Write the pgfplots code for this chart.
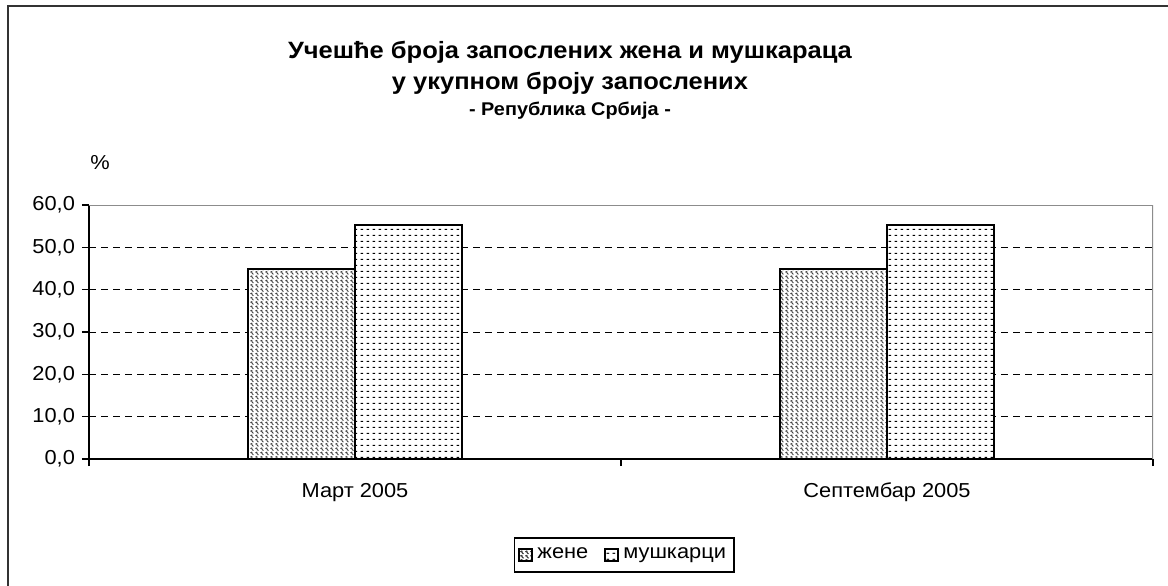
\documentclass[border=0pt]{standalone}
\usepackage{fontspec}
\setmainfont{Liberation Sans}[FakeStretch=1.08]
\usepackage{pgfplots}
\pgfplotsset{compat=1.18}
\usetikzlibrary{patterns}
\pgfdeclarepatternformonly{menpat}{\pgfqpoint{0pt}{0pt}}{\pgfqpoint{3pt}{3pt}}{\pgfqpoint{3pt}{3pt}}{%
  \pgfpathrectangle{\pgfqpoint{0.3pt}{1.3pt}}{\pgfqpoint{1.5pt}{0.45pt}}\pgfusepath{fill}}
\pgfdeclarepatternformonly{womenpat}{\pgfqpoint{-0.5pt}{-0.5pt}}{\pgfqpoint{3pt}{3pt}}{\pgfqpoint{2.5pt}{2.15pt}}{%
  \pgfsetlinewidth{0.45pt}%
  \pgfpathmoveto{\pgfqpoint{0.2pt}{1.6pt}}%
  \pgfpathlineto{\pgfqpoint{0.9pt}{1.9pt}}%
  \pgfpathlineto{\pgfqpoint{1.0pt}{1.2pt}}%
  \pgfpathlineto{\pgfqpoint{1.7pt}{0.5pt}}%
  \pgfusepath{stroke}}
\newcommand{\fs}{\fontsize{10.1}{12}\selectfont}
\begin{document}
\begin{tikzpicture}[x=1pt,y=1pt]
\useasboundingbox (0,0) rectangle (584,292.5);
\fill[white] (0,0) rectangle (584,292.5);
\draw[line width=1pt, black!80] (3.75,-2) -- (3.75,289.25) -- (590,289.25);
\node[font=\fontsize{11.8}{14}\selectfont\bfseries] at (285,266.5) {Учешће броја запослених жена и мушкараца};
\node[font=\fontsize{11.8}{14}\selectfont\bfseries] at (285,251) {у укупном броју запослених};
\node[font=\fontsize{9.2}{11}\selectfont\bfseries] at (285,237) {- Република Србија -};
\begin{axis}[
  at={(44.5pt,63pt)}, anchor=south west,
  width=532pt, height=127pt, scale only axis,
  font=\fs,
  xmin=-0.5, xmax=1.5, ymin=0, ymax=60,
  ytick={0,10,...,60},
  xtick={-0.5,0.5,1.5}, xticklabels={},
  extra x ticks={0,1},
  extra x tick labels={Март 2005, Септембар 2005},
  extra x tick style={tick style={draw=none}},
  xticklabel style={yshift=-5pt},
  tick align=outside, major tick length=3.5pt,
  xtick pos=bottom, ytick pos=left,
  tick style={black, line width=0.6pt},
  axis x line*=bottom, axis y line*=left,
  axis line style={-, black, line width=0.8pt},
  ymajorgrids,
  major grid style={black, line width=0.5pt, dash pattern=on 3.5pt off 2.5pt},
  yticklabel style={/pgf/number format/.cd, fixed, fixed zerofill, precision=1, use comma, assume math mode=true},
  ybar=0pt, bar width=53.5pt,
  ylabel={\%},
  every axis y label/.style={at={(rel axis cs:0.0103,1.169)}, anchor=center},
  legend style={at={(0.503,-0.378)}, anchor=center, legend columns=2, draw=black, line width=0.6pt,
    font=\fs, inner xsep=2pt, inner ysep=3pt,
    /tikz/every even column/.append style={column sep=6pt}},
]
\addplot[draw=black, line width=0.9pt, fill=white, postaction={pattern=womenpat, pattern color=black!75},
  legend image code/.code={\draw[draw=black, line width=1pt, fill=white, postaction={pattern=womenpat, pattern color=black!75}] (0pt,-3.2pt) rectangle (6.5pt,3.2pt);}]
  coordinates {(0,44.8) (1,44.8)};
\addplot[draw=black, line width=0.9pt, fill=white, postaction={pattern=menpat, pattern color=black},
  legend image code/.code={\draw[draw=black, line width=1pt, fill=white, postaction={pattern=menpat}] (0pt,-3.2pt) rectangle (6.5pt,3.2pt);}]
  coordinates {(0,55.2) (1,55.2)};
\legend{жене, мушкарци}
\draw[black!45, line width=1pt] (rel axis cs:0,1) -- (rel axis cs:1,1) -- (rel axis cs:1,0);
\end{axis}
\end{tikzpicture}
\end{document}
